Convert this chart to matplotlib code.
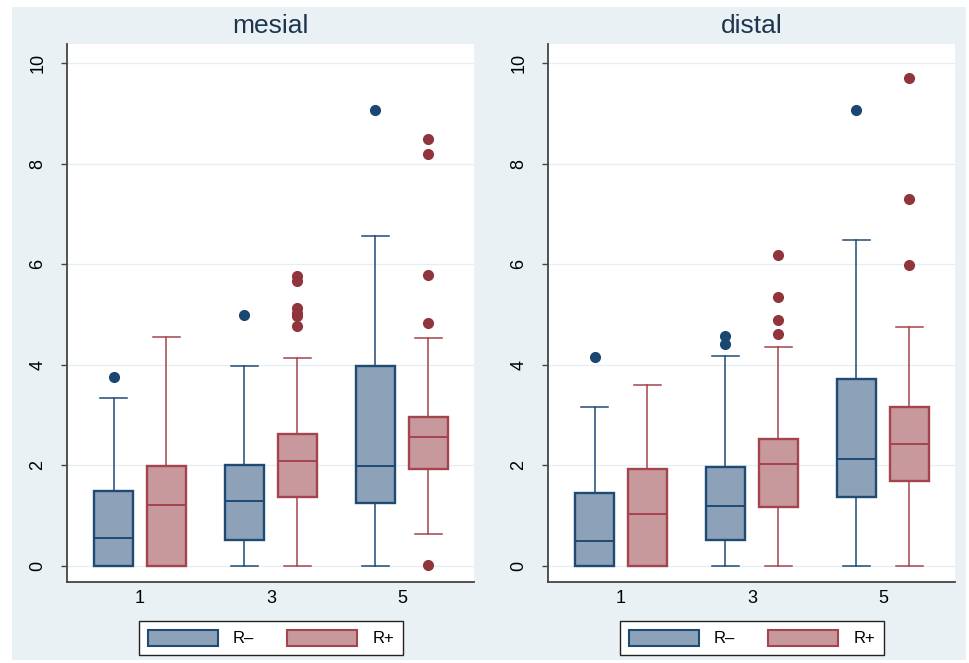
import matplotlib
matplotlib.use("Agg")
import matplotlib.pyplot as plt
from matplotlib.patches import Rectangle, Patch

plt.rcParams['font.family'] = ['Liberation Sans', 'DejaVu Sans']

groups = ["1", "3", "5"]
series = ["R\u2013", "R+"]
panels = ["mesial", "distal"]

# box stats per panel, per series, per group: (whislo, q1, med, q3, whishi)
mesial_rminus = [(0, 0, 0.55, 1.48, 3.34), (0, 0.52, 1.30, 2.01, 3.98), (0, 1.26, 1.99, 3.97, 6.56)]
mesial_rplus = [(0, 0, 1.21, 1.99, 4.55), (0, 1.37, 2.08, 2.62, 4.13), (0.64, 1.93, 2.57, 2.97, 4.54)]
mesial_rminus_out = [[3.76], [5.0], [9.07]]
mesial_rplus_out = [[], [4.78, 4.97, 5.03, 5.12, 5.67, 5.77], [0.01, 4.84, 5.79, 8.20, 8.50]]

distal_rminus = [(0, 0, 0.50, 1.45, 3.17), (0, 0.52, 1.19, 1.97, 4.18), (0, 1.38, 2.13, 3.72, 6.49)]
distal_rplus = [(0, 0, 1.04, 1.92, 3.60), (0, 1.17, 2.02, 2.52, 4.36), (0, 1.69, 2.42, 3.17, 4.76)]
distal_rminus_out = [[4.16], [4.41, 4.57], [9.06]]
distal_rplus_out = [[], [4.61, 4.89, 5.35, 6.18], [5.99, 7.30, 9.70]]

yticks = [0, 2, 4, 6, 8, 10]

fill_cols = ["#8DA2B8", "#C8999C"]
edge_cols = ["#1F4A74", "#A5444C"]
dot_cols = ["#1A476F", "#90353B"]

W, H = 970, 663
fig = plt.figure(figsize=(W / 100, H / 100), dpi=100)
fig.patch.set_facecolor("white")
fig.patches.append(Rectangle((12 / W, 3 / H), 954 / W, 653 / H, transform=fig.transFigure,
                             facecolor="#EAF1F4", edgecolor="none", zorder=-10))


def stats(rows, outs):
    out = []
    for (lo, q1, med, q3, hi), fl in zip(rows, outs):
        out.append(dict(whislo=lo, q1=q1, med=med, q3=q3, whishi=hi, fliers=fl))
    return out


data = {
    "mesial": [stats(mesial_rminus, mesial_rminus_out), stats(mesial_rplus, mesial_rplus_out)],
    "distal": [stats(distal_rminus, distal_rminus_out), stats(distal_rplus, distal_rplus_out)],
}

lefts = [67, 548]
for name, left in zip(panels, lefts):
    ax = fig.add_axes([left / W, (H - 582) / H, 407 / W, 538 / H])
    ax.set_facecolor("white")
    for k in range(2):
        pos = [i + (k - 0.5) * 0.404 for i in range(len(groups))]
        ax.bxp(data[name][k], positions=pos, widths=0.3, capwidths=0.2, patch_artist=True,
               boxprops=dict(facecolor=fill_cols[k], edgecolor=edge_cols[k], linewidth=1.7),
               medianprops=dict(color=edge_cols[k], linewidth=1.4),
               whiskerprops=dict(color=edge_cols[k], linewidth=1.1),
               capprops=dict(color=edge_cols[k], linewidth=1.1),
               flierprops=dict(marker="o", markerfacecolor=dot_cols[k], markeredgecolor=dot_cols[k],
                               markersize=7),
               manage_ticks=False, zorder=3)
    ax.set_xlim(-0.557, 2.55)
    ax.set_ylim(-0.32, 10.38)
    ax.set_yticks(yticks)
    ax.set_yticklabels([str(v) for v in yticks], rotation=90, va="center")
    ax.set_xticks(range(len(groups)))
    ax.set_xticklabels(groups)
    ax.tick_params(axis="y", length=4, width=1, color="#444444", labelsize=13, pad=11)
    ax.tick_params(axis="x", length=0, labelsize=13, pad=6)
    ax.grid(axis="y", color="#E6EEF2", linewidth=0.9, zorder=0)
    ax.set_axisbelow(True)
    for s in ["top", "right"]:
        ax.spines[s].set_visible(False)
    for s in ["left", "bottom"]:
        ax.spines[s].set_color("#444444")
        ax.spines[s].set_linewidth(1.3)
    ax.set_title(name, fontsize=19, color="#1E3550", pad=8)

    handles = [Patch(facecolor=fill_cols[k], edgecolor=edge_cols[k], linewidth=1.5) for k in range(2)]
    leg = ax.legend(handles, series, loc="center", ncol=2, fontsize=12,
                    bbox_to_anchor=((left + 204) / W, (H - 638) / H), bbox_transform=fig.transFigure,
                    handlelength=4.2, handleheight=1.1, columnspacing=2.0, handletextpad=0.9,
                    fancybox=False, frameon=True, framealpha=1, borderpad=0.5)
    leg.get_frame().set_edgecolor("#222222")
    leg.get_frame().set_linewidth(1.0)

fig.savefig("out.png", dpi=100, facecolor=fig.get_facecolor())
